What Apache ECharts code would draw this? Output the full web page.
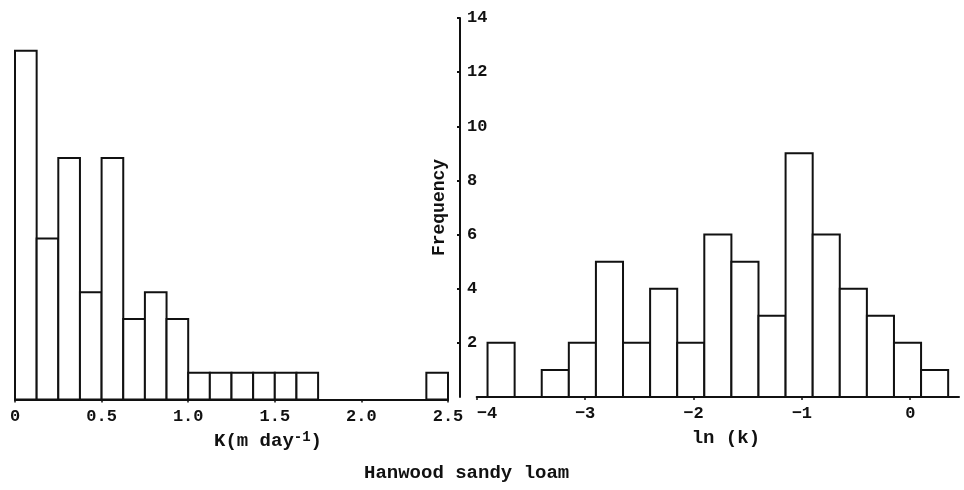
<!DOCTYPE html>
<html>
<head>
<meta charset="utf-8">
<script src="https://cdn.jsdelivr.net/npm/echarts@6/dist/echarts.min.js"></script>
<style>
  html, body { margin: 0; padding: 0; background: #fff; }
  #main { width: 964px; height: 490px; }
</style>
</head>
<body>
<div id="main"></div>
<script type="text/javascript">
    // K histogram (left), bins of 0.125
    var kBinStart = [0, 0.125, 0.25, 0.375, 0.5, 0.625, 0.75, 0.875, 1.0, 1.125, 1.25, 1.375, 1.5, 1.625, 2.375];
    var kCount    = [13, 6, 9, 4, 9, 3, 4, 3, 1, 1, 1, 1, 1, 1, 1];
    var kBinWidth = 0.125;
    var kTicks    = [0, 0.5, 1.0, 1.5, 2.0, 2.5];

    // ln(k) histogram (right), bins of 0.25
    var lnBinStart = [-3.9, -3.4, -3.15, -2.9, -2.65, -2.4, -2.15, -1.9, -1.65, -1.4, -1.15, -0.9, -0.65, -0.4, -0.15, 0.1];
    var lnCount    = [2, 1, 2, 5, 2, 4, 2, 6, 5, 3, 9, 6, 4, 3, 2, 1];
    var lnBinWidth = 0.25;
    var lnTicks    = [-4, -3, -2, -1, 0];

    var freqTicks = [2, 4, 6, 8, 10, 12, 14];

    var FONT = 'Liberation Mono';
    var INK = '#111';

    function binData(starts, counts, w) {
        return starts.map(function (s, i) {
            return [s, s + w, counts[i]];
        });
    }

    function drawBin(params, api) {
        var p0 = api.coord([api.value(0), api.value(2)]);
        var p1 = api.coord([api.value(1), 0]);
        return {
            type: 'rect',
            shape: { x: p0[0], y: p0[1], width: p1[0] - p0[0], height: p1[1] - p0[1] },
            style: { fill: '#fff', stroke: INK, lineWidth: 2 }
        };
    }

    var myChart = echarts.init(document.getElementById('main'));
    myChart.setOption({
        animation: false,
        backgroundColor: '#fff',
        title: {
            text: 'Hanwood sandy loam',
            left: 364,
            top: 464,
            padding: 0,
            textStyle: { fontFamily: FONT, fontSize: 19, fontWeight: 'bold', color: INK }
        },
        grid: [
            { left: 15, right: 516, top: 24, bottom: 90.5 },
            { left: 476.7, right: 5, top: 18, bottom: 93 }
        ],
        xAxis: [{
            gridIndex: 0,
            type: 'value',
            min: 0,
            max: 2.5,
            interval: 0.5,
            splitLine: { show: false },
            axisLine: { lineStyle: { color: INK, width: 2 } },
            axisTick: { show: true, length: 3, customValues: kTicks, lineStyle: { color: INK, width: 1.5 } },
            axisLabel: {
                customValues: kTicks,
                margin: 9,
                fontFamily: FONT, fontSize: 17, fontWeight: 'bold', color: INK,
                formatter: function (v) { return v === 0 ? '0' : v.toFixed(1); }
            }
        }, {
            gridIndex: 1,
            type: 'value',
            min: -4,
            max: 0.45,
            interval: 1,
            splitLine: { show: false },
            axisLine: { lineStyle: { color: INK, width: 2 } },
            axisTick: { show: true, length: 3, customValues: lnTicks, lineStyle: { color: INK, width: 1.5 } },
            axisLabel: {
                customValues: lnTicks,
                alignMinLabel: 'left',
                margin: 8,
                fontFamily: FONT, fontSize: 17, fontWeight: 'bold', color: INK,
                formatter: function (v) { return v < 0 ? '\u2212' + Math.abs(v) : String(v); }
            },
            name: 'ln (k)',
            nameLocation: 'middle',
            nameGap: 32,
            nameTextStyle: { fontFamily: FONT, fontSize: 19, fontWeight: 'bold', color: INK, padding: [0, 0, 0, 16] }
        }],
        yAxis: [{
            gridIndex: 0,
            type: 'value',
            min: 0,
            max: 14,
            show: false
        }, {
            gridIndex: 1,
            type: 'value',
            min: 0,
            max: 14,
            interval: 2,
            offset: 16.7,
            splitLine: { show: false },
            axisLine: { show: true, onZero: false, lineStyle: { color: INK, width: 2 } },
            axisTick: { show: true, length: 3, customValues: freqTicks, lineStyle: { color: INK, width: 2 } },
            axisLabel: {
                inside: true,
                customValues: freqTicks,
                margin: 7,
                fontFamily: FONT, fontSize: 17, fontWeight: 'bold', color: INK
            },
            name: 'Frequency',
            nameLocation: 'middle',
            nameRotate: 90,
            nameGap: 12,
            nameTextStyle: { fontFamily: FONT, fontSize: 18, fontWeight: 'bold', color: INK }
        }],
        graphic: [{
            type: 'text',
            left: 214,
            top: 430,
            style: {
                text: 'K(m day{sup|-1})',
                font: 'bold 19px "Liberation Mono"',
                fill: INK,
                rich: {
                    sup: { fontFamily: FONT, fontSize: 14, fontWeight: 'bold', fill: INK, verticalAlign: 'bottom', padding: [0, 0, 9, 0] }
                }
            }
        }],
        series: [{
            type: 'custom',
            xAxisIndex: 0,
            yAxisIndex: 0,
            renderItem: drawBin,
            encode: { x: [0, 1], y: 2 },
            data: binData(kBinStart, kCount, kBinWidth)
        }, {
            type: 'custom',
            xAxisIndex: 1,
            yAxisIndex: 1,
            renderItem: drawBin,
            encode: { x: [0, 1], y: 2 },
            data: binData(lnBinStart, lnCount, lnBinWidth)
        }]
    });
</script>
</body>
</html>
